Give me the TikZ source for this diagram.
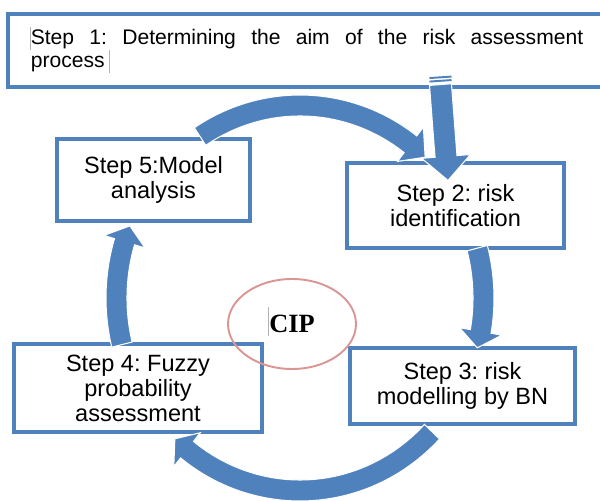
\documentclass[tikz,border=0pt]{standalone}
\usepackage{fontspec}
\setmainfont{Liberation Sans}
\newfontfamily\cipfont{Liberation Serif}
\usetikzlibrary{calc,shapes.geometric}
\definecolor{stepblue}{RGB}{79,129,189}
\definecolor{cippink}{RGB}{217,150,148}
\frenchspacing

% curved block arrow of the cycle: tail angle, head angle, tip angle
\newcommand{\cyclearrow}[3]{%
  \filldraw[blockarrow] ($(hub)+(#1:194 and 203)$)
    arc[start angle=#1, end angle=#2, x radius=194, y radius=203]
    -- ($(hub)+(#2:205 and 214)$) -- ($(hub)+(#3:183.5 and 192.5)$)
    -- ($(hub)+(#2:162 and 171)$) -- ($(hub)+(#2:173 and 182)$)
    arc[start angle=#2, end angle=#1, x radius=173, y radius=182] -- cycle;}

\begin{document}
\begin{tikzpicture}[x=0.02cm, y=0.02cm]
\tikzstyle{every node}=[font=\fontsize{13.4}{14.2}\selectfont]
\tikzstyle{stepbox}=[draw=stepblue, line width=1.8pt, fill=white, inner sep=0pt, align=center]
\tikzstyle{blockarrow}=[fill=stepblue, draw=white, line width=0.6pt]
\tikzstyle{stripe}=[draw=stepblue, line width=1.1pt]
\tikzstyle{cursorbar}=[draw=black!30, line width=0.4pt]
\useasboundingbox (0,0) rectangle (600,501);

\node[stepbox, minimum width=11.96cm, minimum height=1.46cm, text width=11.05cm, align=justify,
  font=\fontsize{12}{13.6}\selectfont] (s1) at (307,450.5)
  {Step 1: Determining the aim of the risk assessment\linebreak process};
\node[stepbox, minimum width=4.34cm, minimum height=1.7cm] (s2) at (455.5,295.5) {Step 2: risk\\identification};
\node[stepbox, minimum width=4.5cm, minimum height=1.52cm] (s3) at (462.5,115) {Step 3: risk\\modelling by BN};
\node[stepbox, minimum width=4.96cm, minimum height=1.76cm] (s4) at (138,113) {Step 4: Fuzzy\\probability\\assessment};
\node[stepbox, minimum width=3.86cm, minimum height=1.64cm] (s5) at (153.5,321) {Step 5:Model\\analysis};

\node[ellipse, draw=cippink, line width=1.1pt, minimum width=2.56cm, minimum height=1.8cm,
  font=\cipfont\bfseries\fontsize{15}{17}\selectfont] (cip) at (292,177) {CIP};

\draw[cursorbar] (30,474) -- (30,451);
\draw[cursorbar] (109,451) -- (109,428);
\draw[cursorbar] (268,194) -- (268,165);

% the cycle
\coordinate (hub) at (300,203);
\cyclearrow{123}{53}{47}
\cyclearrow{15}{-10}{-15}
\cyclearrow{-44}{-128}{-133}
\cyclearrow{194}{163}{158}

% step 1 into step 2
\coordinate (st) at ($(s1.south)+(133.5,4)$);
\coordinate (sp) at ($(s2.north)+(-7.5,-19)$);
\coordinate (sb) at ($(sp)+(-2,24)$);
\filldraw[blockarrow] ($(st)!0.22cm!-90:(sb)$) -- ($(sb)!0.22cm!90:(st)$) -- ($(sb)!0.49cm!90:(st)$)
  -- (sp) -- ($(sb)!0.49cm!-90:(st)$) -- ($(sb)!0.22cm!-90:(st)$) -- ($(st)!0.22cm!90:(sb)$) -- cycle;
\draw[stripe] ($(st)+(-11,3)$) -- ($(st)+(11,4.5)$);
\draw[stripe] ($(st)+(-11,6.5)$) -- ($(st)+(11,8)$);
\end{tikzpicture}
\end{document}
